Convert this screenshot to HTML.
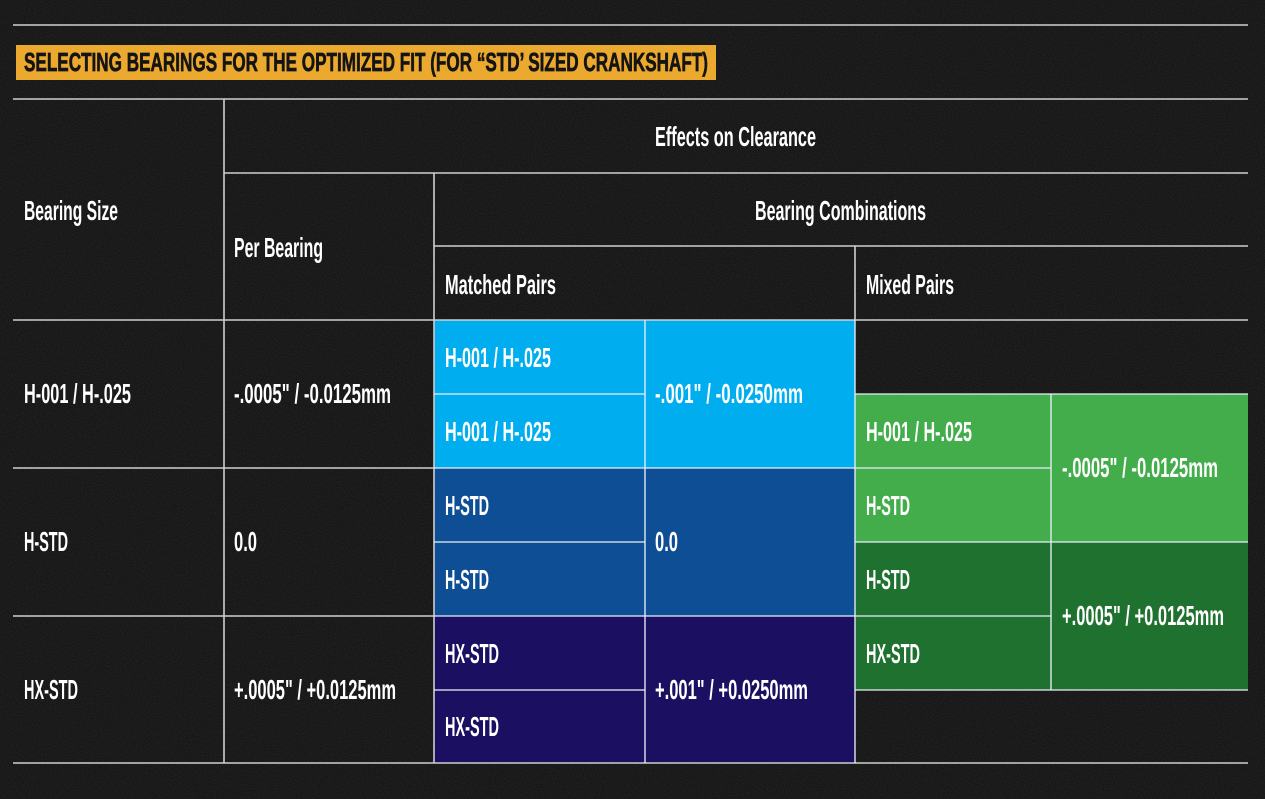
<!DOCTYPE html>
<html><head><meta charset="utf-8">
<style>
html,body{margin:0;padding:0;background:#151515;}
svg{display:block;}
text{font-family:"Liberation Sans",sans-serif;fill:#fff;font-weight:bold;font-size:28px;}
</style></head>
<body>
<svg width="1265" height="799" viewBox="0 0 1265 799" xmlns="http://www.w3.org/2000/svg">
<defs>
<filter id="noise" x="0" y="0" width="100%" height="100%">
<feTurbulence type="fractalNoise" baseFrequency="0.9" numOctaves="2" seed="3" result="t"/>
<feColorMatrix type="matrix" values="0 0 0 0 1  0 0 0 0 1  0 0 0 0 1  0 0 0 0.35 -0.1"/>
</filter>
</defs>
<rect width="1265" height="799" fill="#151515"/>
<rect width="1265" height="799" filter="url(#noise)" opacity="0.35"/>

<!-- colored blocks -->
<rect x="434" y="320" width="421" height="148" fill="#00aeef"/>
<rect x="434" y="468" width="421" height="148" fill="#0e4e95"/>
<rect x="434" y="616" width="421" height="147" fill="#1b0f62"/>
<rect x="855" y="394" width="393" height="148" fill="#42ad4a"/>
<rect x="855" y="542" width="393" height="148" fill="#1e712f"/>

<!-- title -->
<rect x="16" y="45" width="700" height="35" fill="#eca92f"/>
<text x="24" y="71" textLength="684" lengthAdjust="spacingAndGlyphs" stroke="#141414" stroke-width="0.7" style="fill:#141414;font-size:26px;font-weight:bold;">SELECTING BEARINGS FOR THE OPTIMIZED FIT (FOR “STD’ SIZED CRANKSHAFT)</text>

<!-- grid lines -->
<g stroke="#cfcfcf" stroke-width="1.6" fill="none">
<line x1="13" y1="25" x2="1248" y2="25"/>
<line x1="13" y1="99" x2="1248" y2="99"/>
<line x1="224" y1="173" x2="1248" y2="173"/>
<line x1="434" y1="246" x2="1248" y2="246"/>
<line x1="13" y1="320" x2="1248" y2="320"/>
<line x1="13" y1="468" x2="434" y2="468"/>
<line x1="13" y1="616" x2="434" y2="616"/>
<line x1="13" y1="763" x2="1248" y2="763"/>
<line x1="224" y1="99" x2="224" y2="763"/>
<line x1="434" y1="173" x2="434" y2="763"/>
<line x1="855" y1="246" x2="855" y2="320"/>
</g>
<g stroke="#e6eef7" stroke-opacity="0.85" stroke-width="1.6" fill="none">
<line x1="434" y1="394" x2="645" y2="394"/>
<line x1="434" y1="468" x2="855" y2="468"/>
<line x1="434" y1="542" x2="645" y2="542"/>
<line x1="434" y1="616" x2="855" y2="616"/>
<line x1="434" y1="690" x2="645" y2="690"/>
<line x1="645" y1="320" x2="645" y2="763"/>
<line x1="855" y1="320" x2="855" y2="763"/>
<line x1="855" y1="394" x2="1248" y2="394"/>
<line x1="855" y1="468" x2="1051" y2="468"/>
<line x1="855" y1="542" x2="1248" y2="542"/>
<line x1="855" y1="616" x2="1051" y2="616"/>
<line x1="855" y1="690" x2="1248" y2="690"/>
<line x1="1051" y1="394" x2="1051" y2="690"/>
</g>

<!-- headers -->
<text x="655" y="146" textLength="161" lengthAdjust="spacingAndGlyphs">Effects on Clearance</text>
<text x="24" y="220" textLength="94" lengthAdjust="spacingAndGlyphs">Bearing Size</text>
<text x="234" y="257" textLength="89" lengthAdjust="spacingAndGlyphs">Per Bearing</text>
<text x="755" y="220" textLength="171" lengthAdjust="spacingAndGlyphs">Bearing Combinations</text>
<text x="445" y="294" textLength="111" lengthAdjust="spacingAndGlyphs">Matched Pairs</text>
<text x="866" y="294" textLength="88" lengthAdjust="spacingAndGlyphs">Mixed Pairs</text>

<!-- left columns -->
<text x="24" y="403" textLength="107" lengthAdjust="spacingAndGlyphs">H-001 / H-.025</text>
<text x="234" y="403" textLength="157" lengthAdjust="spacingAndGlyphs">-.0005&quot; / -0.0125mm</text>
<text x="24" y="551" textLength="44" lengthAdjust="spacingAndGlyphs">H-STD</text>
<text x="234" y="551" textLength="23" lengthAdjust="spacingAndGlyphs">0.0</text>
<text x="24" y="699" textLength="54" lengthAdjust="spacingAndGlyphs">HX-STD</text>
<text x="234" y="699" textLength="162" lengthAdjust="spacingAndGlyphs">+.0005&quot; / +0.0125mm</text>

<!-- matched pairs -->
<text x="445" y="367" textLength="106" lengthAdjust="spacingAndGlyphs">H-001 / H-.025</text>
<text x="445" y="441" textLength="106" lengthAdjust="spacingAndGlyphs">H-001 / H-.025</text>
<text x="655" y="403" textLength="148" lengthAdjust="spacingAndGlyphs">-.001&quot; / -0.0250mm</text>
<text x="445" y="515" textLength="44" lengthAdjust="spacingAndGlyphs">H-STD</text>
<text x="445" y="589" textLength="44" lengthAdjust="spacingAndGlyphs">H-STD</text>
<text x="655" y="551" textLength="23" lengthAdjust="spacingAndGlyphs">0.0</text>
<text x="445" y="663" textLength="54" lengthAdjust="spacingAndGlyphs">HX-STD</text>
<text x="445" y="736" textLength="54" lengthAdjust="spacingAndGlyphs">HX-STD</text>
<text x="655" y="699" textLength="153" lengthAdjust="spacingAndGlyphs">+.001&quot; / +0.0250mm</text>

<!-- mixed pairs -->
<text x="866" y="441" textLength="106" lengthAdjust="spacingAndGlyphs">H-001 / H-.025</text>
<text x="866" y="515" textLength="44" lengthAdjust="spacingAndGlyphs">H-STD</text>
<text x="1062" y="477" textLength="156" lengthAdjust="spacingAndGlyphs">-.0005&quot; / -0.0125mm</text>
<text x="866" y="589" textLength="44" lengthAdjust="spacingAndGlyphs">H-STD</text>
<text x="866" y="663" textLength="54" lengthAdjust="spacingAndGlyphs">HX-STD</text>
<text x="1062" y="625" textLength="162" lengthAdjust="spacingAndGlyphs">+.0005&quot; / +0.0125mm</text>
</svg>
</body></html>
